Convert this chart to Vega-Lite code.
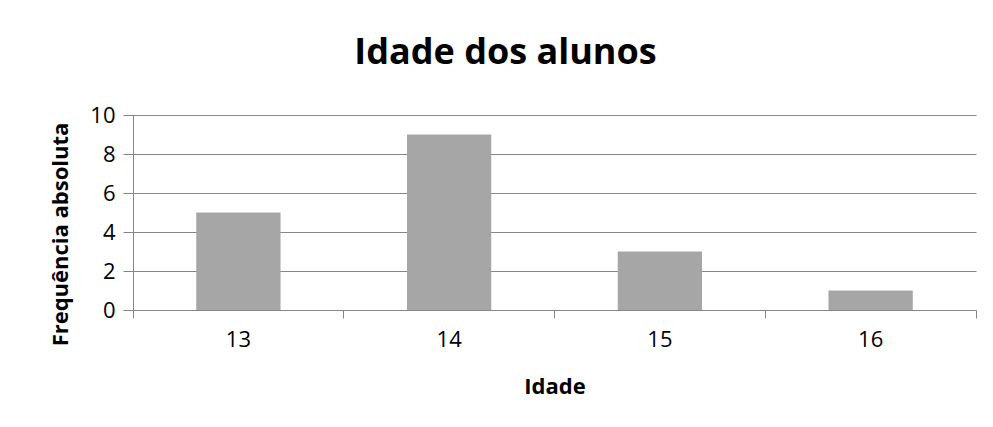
{
  "$schema": "https://vega.github.io/schema/vega-lite/v6.json",
  "width": 843,
  "height": 195,
  "autosize": {"type": "none"},
  "padding": {"left": 133, "top": 115, "right": 17, "bottom": 117},
  "background": "white",
  "title": {
    "text": "Idade dos  alunos",
    "font": "Open Sans",
    "fontSize": 36,
    "fontWeight": "bold",
    "color": "#000000",
    "anchor": "middle",
    "baseline": "alphabetic",
    "offset": 4,
    "dx": -49
  },
  "data": {
    "values": [
      {"idade": "13", "frequencia": 5},
      {"idade": "14", "frequencia": 9},
      {"idade": "15", "frequencia": 3},
      {"idade": "16", "frequencia": 1}
    ]
  },
  "mark": {"type": "bar", "color": "#A6A6A6", "width": {"band": 0.4}},
  "encoding": {
    "x": {
      "field": "idade",
      "type": "ordinal",
      "sort": null,
      "scale": {"paddingInner": 0, "paddingOuter": 0},
      "axis": {
        "title": "Idade",
        "labelAngle": 0,
        "bandPosition": 1,
        "tickExtra": true,
        "grid": false,
        "tickSize": 8,
        "labelPadding": 11,
        "titleBaseline": "alphabetic",
        "titleY": 83
      }
    },
    "y": {
      "field": "frequencia",
      "type": "quantitative",
      "scale": {"domain": [0, 10]},
      "axis": {
        "title": "Frequência absoluta",
        "values": [0, 2, 4, 6, 8, 10],
        "tickSize": 10,
        "labelPadding": 8,
        "grid": true,
        "titleBaseline": "alphabetic",
        "titleX": -66,
        "titleY": 119
      }
    }
  },
  "config": {
    "view": {"stroke": null},
    "axis": {
      "labelFont": "Open Sans",
      "labelFontSize": 22,
      "labelColor": "#000000",
      "titleFont": "Open Sans",
      "titleFontSize": 22,
      "titleFontWeight": "bold",
      "titleColor": "#000000",
      "domainColor": "#868686",
      "tickColor": "#868686",
      "gridColor": "#868686",
      "domainWidth": 1,
      "tickWidth": 1,
      "gridWidth": 1
    }
  }
}
